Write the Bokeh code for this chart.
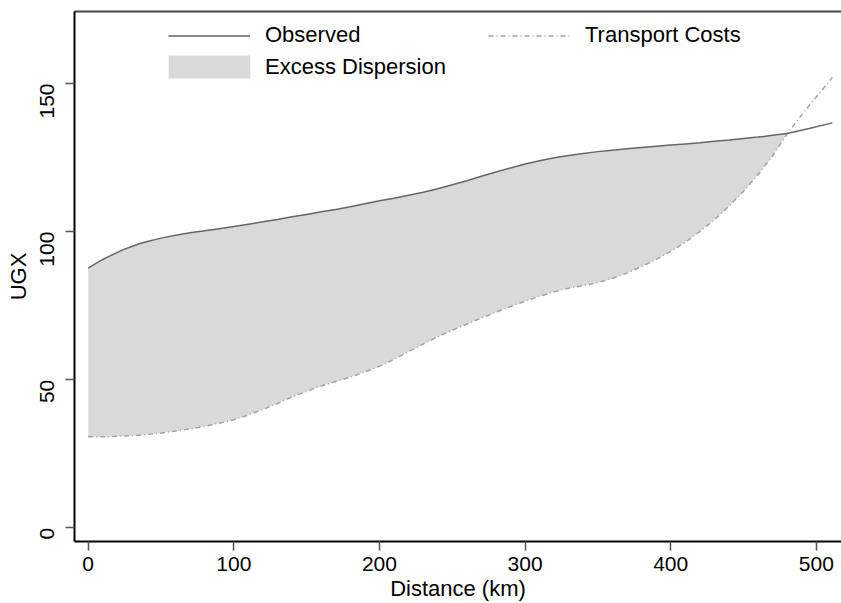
from bokeh.plotting import figure
from bokeh.models import (Range1d, LinearAxis, Legend, LegendItem, FixedTicker,
                          ColumnDataSource)
from bokeh.embed import file_html
from bokeh.resources import INLINE
import math

# ---- data ----
distance_km = [0, 5, 10, 15, 20, 25, 30, 35, 40, 50, 60, 70, 80, 90, 100,
               110, 120, 130, 140, 150, 160, 170, 180, 190, 200, 210, 220,
               230, 240, 250, 260, 270, 280, 290, 300, 310, 320, 330, 340,
               350, 360, 370, 380, 390, 400, 410, 420, 430, 440, 450, 460,
               470, 480, 495, 511]
observed = [87.7, 89.2, 90.6, 91.8, 93.0, 94.1, 95.0, 95.9, 96.6, 97.8, 98.8,
            99.6, 100.3, 101.0, 101.7, 102.5, 103.3, 104.1, 105.0, 105.8,
            106.7, 107.5, 108.4, 109.4, 110.4, 111.3, 112.3, 113.3, 114.5,
            115.8, 117.2, 118.7, 120.1, 121.5, 122.8, 123.9, 124.9, 125.7,
            126.4, 127.0, 127.5, 128.0, 128.4, 128.8, 129.2, 129.6, 130.0,
            130.5, 130.9, 131.4, 131.9, 132.5, 133.1, 134.8, 136.7]
transport_costs = [30.8, 30.8, 30.8, 30.8, 30.9, 31.0, 31.1, 31.3, 31.5, 32.0,
                   32.7, 33.4, 34.3, 35.3, 36.5, 38.1, 40.0, 42.0, 44.2, 46.1,
                   47.9, 49.4, 50.9, 52.6, 54.5, 56.9, 59.5, 62.0, 64.5, 66.7,
                   68.8, 70.8, 72.8, 74.7, 76.5, 78.2, 79.7, 80.9, 81.8, 82.8,
                   84.2, 86.0, 88.2, 90.6, 93.3, 96.4, 100.0, 104.0, 108.6,
                   113.6, 119.2, 125.6, 133.0, 142.5, 152.0]
dispersion_end_km = 480
x_ticks = [0, 100, 200, 300, 400, 500]
y_ticks = [0, 50, 100, 150]

FONT = "Liberation Sans"

src_all = ColumnDataSource(dict(x=distance_km, obs=observed, tc=transport_costs))
idx = [i for i, d in enumerate(distance_km) if d <= dispersion_end_km]
src_area = ColumnDataSource(dict(x=[distance_km[i] for i in idx],
                                 lo=[transport_costs[i] for i in idx],
                                 hi=[observed[i] for i in idx]))

p = figure(width=841, height=603, output_backend="svg", toolbar_location=None,
           x_range=Range1d(-9.4, 517.3), y_range=Range1d(-4.6, 174.3),
           min_border_left=74, min_border_right=0, min_border_top=11,
           min_border_bottom=62, x_axis_label="Distance (km)", y_axis_label="UGX")
p.outline_line_color = None
p.grid.grid_line_color = None
p.background_fill_color = "white"
p.border_fill_color = "white"

area = p.varea(x="x", y1="lo", y2="hi", source=src_area, fill_color="#d9d9d9")
tc_line = p.line("x", "tc", source=src_all, line_color="#a3a3a3", line_width=1.5,
                 line_dash="5 3 1 3")
obs_line = p.line("x", "obs", source=src_all, line_color="#666666", line_width=1.5)

for ax in (p.xaxis[0], p.yaxis[0]):
    ax.axis_line_color = "black"
    ax.axis_line_width = 2
    ax.major_tick_line_color = "#555555"
    ax.major_tick_line_width = 1.5
    ax.major_tick_out = 9
    ax.major_tick_in = 0
    ax.minor_tick_line_color = None
    ax.major_label_text_font = FONT
    ax.major_label_text_font_size = "21px"
    ax.major_label_text_color = "black"
    ax.axis_label_text_font = FONT
    ax.axis_label_text_font_size = "22px"
    ax.axis_label_text_font_style = "normal"
    ax.axis_label_text_color = "black"

p.xaxis[0].ticker = FixedTicker(ticks=x_ticks)
p.yaxis[0].ticker = FixedTicker(ticks=y_ticks)
p.xaxis[0].major_label_standoff = 6
p.xaxis[0].axis_label_standoff = 2
p.yaxis[0].major_label_orientation = math.pi / 2
p.yaxis[0].major_label_standoff = 18
p.yaxis[0].axis_label_standoff = 0

# top border line
top = LinearAxis(ticker=FixedTicker(ticks=[]), major_tick_out=0, major_tick_in=0,
                 minor_tick_out=0, minor_tick_in=0,
                 major_label_text_font_size="0px", axis_line_color="#444444",
                 axis_line_width=2, major_label_standoff=0)
p.add_layout(top, "above")

leg_kw = dict(padding=0, margin=0, border_line_color=None,
              background_fill_alpha=0, label_text_font=FONT,
              label_text_font_size="22px", label_text_color="black",
              label_height=23)
leg_obs = Legend(items=[LegendItem(label="Observed", renderers=[obs_line])],
                 location=(94, 493), glyph_width=82, glyph_height=23,
                 label_standoff=15, **leg_kw)
leg_area = Legend(items=[LegendItem(label="Excess Dispersion", renderers=[area])],
                  location=(84, 460), glyph_width=102, glyph_height=29,
                  label_standoff=5, **leg_kw)
leg_tc = Legend(items=[LegendItem(label="Transport Costs", renderers=[tc_line])],
                location=(414, 493), glyph_width=82, glyph_height=23,
                label_standoff=15, **leg_kw)
for lg in (leg_obs, leg_area, leg_tc):
    p.add_layout(lg)

open("out.html", "w").write(file_html(p, INLINE))
